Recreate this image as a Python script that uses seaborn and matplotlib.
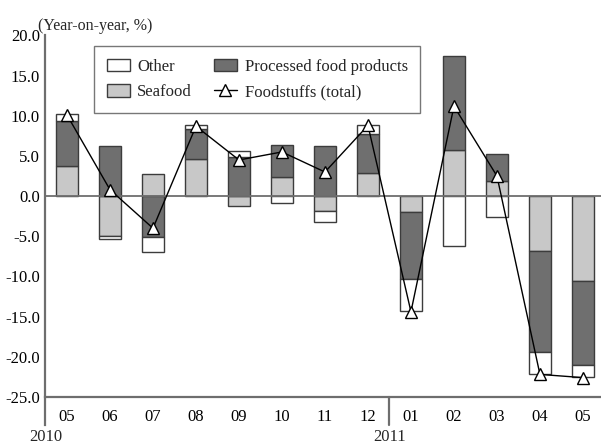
import numpy as np
import pandas as pd
import matplotlib
matplotlib.use("Agg")
import matplotlib.pyplot as plt
from matplotlib.ticker import FuncFormatter, MultipleLocator
from matplotlib.patches import Patch
from matplotlib.lines import Line2D
import seaborn as sns

# Monthly year-on-year contributions (%), May 2010 - May 2011
months = ["05", "06", "07", "08", "09", "10", "11", "12",
          "01", "02", "03", "04", "05"]
seafood = [3.8, -5.0, 2.8, 4.6, -1.2, 2.4, -1.8, 2.9, -2.0, 5.8, 1.9, -6.8, -10.6]
processed = [5.5, 6.2, -5.1, 3.8, 4.9, 4.0, 6.3, 4.8, -8.3, 11.6, 3.3, -12.6, -10.4]
other = [0.9, -0.4, -1.8, 0.4, 0.7, -0.9, -1.4, 1.1, -4.0, -6.2, -2.6, -2.7, -1.5]
total = [10.1, 0.8, -4.0, 8.7, 4.5, 5.5, 3.0, 8.8, -14.4, 11.2, 2.5, -22.2, -22.6]
years = ["2010", "2011"]

sns.set_style("white")
plt.rcParams["font.family"] = ["Liberation Serif", "DejaVu Serif"]
plt.rcParams["axes.unicode_minus"] = False

AX_GREY = "#6e6e6e"
EDGE = "#3c3c3c"
colors = {"Seafood": "#c8c8c8", "Processed food products": "#6f6f6f", "Other": "#ffffff"}

fig = plt.figure(figsize=(6.01, 4.47), dpi=100)
ax = fig.add_axes([0.0757, 0.0492, 0.9243, 0.8714])

x = np.arange(len(months))
pos_base = np.zeros(len(months))
neg_base = np.zeros(len(months))
for name, vals in [("Seafood", seafood), ("Processed food products", processed), ("Other", other)]:
    v = np.asarray(vals, dtype=float)
    bottom = np.where(v >= 0, pos_base, neg_base)
    ax.bar(x, v, bottom=bottom, width=0.53, color=colors[name],
           edgecolor=EDGE, linewidth=1.0, zorder=2)
    pos_base = pos_base + np.where(v >= 0, v, 0)
    neg_base = neg_base + np.where(v < 0, v, 0)

ax.axhline(0, color=AX_GREY, linewidth=1.3, zorder=3)

df = pd.DataFrame({"x": x, "total": total})
sns.lineplot(data=df, x="x", y="total", ax=ax, color="black", linewidth=1.0,
             marker="^", markersize=9, markerfacecolor="white",
             markeredgecolor="black", markeredgewidth=1.0, zorder=4)

ax.set_xlim(-0.5, 12.42)
ax.set_ylim(-28.5, 20)
ax.yaxis.set_major_locator(MultipleLocator(5))
ax.yaxis.set_major_formatter(FuncFormatter(lambda v, p: f"{v:.1f}" if v >= -25 else ""))
ax.set_xticks(x)
ax.set_xticklabels(months)
ax.set_xlabel("")
ax.set_ylabel("")

for s in ["top", "right"]:
    ax.spines[s].set_visible(False)
ax.spines["bottom"].set_position(("data", -25))
for s in ["left", "bottom"]:
    ax.spines[s].set_color(AX_GREY)
    ax.spines[s].set_linewidth(1.6)

ax.tick_params(axis="y", direction="in", length=6, width=1.3, color=AX_GREY,
               labelsize=12, pad=4, labelcolor="black")
ax.tick_params(axis="x", length=0, labelsize=12, pad=9, labelcolor="black")

# divider between the two years below the axis
ax.plot([7.5, 7.5], [-25, -28.5], color=AX_GREY, linewidth=1.6, clip_on=False, zorder=5)

ax.text(-0.5, -30.55, years[0], ha="center", va="baseline", fontsize=12, clip_on=False)
ax.text(7.5, -30.55, years[1], ha="center", va="baseline", fontsize=12, clip_on=False)
ax.text(-0.68, 21.2, "(Year-on-year, %)", ha="left", va="center", fontsize=11.5)

handles = [
    Patch(facecolor=colors["Other"], edgecolor=EDGE, linewidth=1.0, label="Other"),
    Patch(facecolor=colors["Seafood"], edgecolor=EDGE, linewidth=1.0, label="Seafood"),
    Patch(facecolor=colors["Processed food products"], edgecolor=EDGE, linewidth=1.0,
          label="Processed food products"),
    Line2D([0], [0], color="black", linewidth=1.0, marker="^", markersize=9,
           markerfacecolor="white", markeredgecolor="black", label="Foodstuffs (total)"),
]
leg = fig.legend(handles=handles, ncol=2, loc="upper left",
                 bbox_to_anchor=(94 / 601, 1 - 46 / 447), borderaxespad=0,
                 fontsize=12, frameon=True, fancybox=False, handlelength=1.4,
                 handleheight=0.8, handletextpad=0.45, columnspacing=1.3,
                 labelspacing=0.55, borderpad=0.75)
leg.get_frame().set_edgecolor("#555555")
leg.get_frame().set_linewidth(1.0)

fig.savefig("out.png", dpi=100)
